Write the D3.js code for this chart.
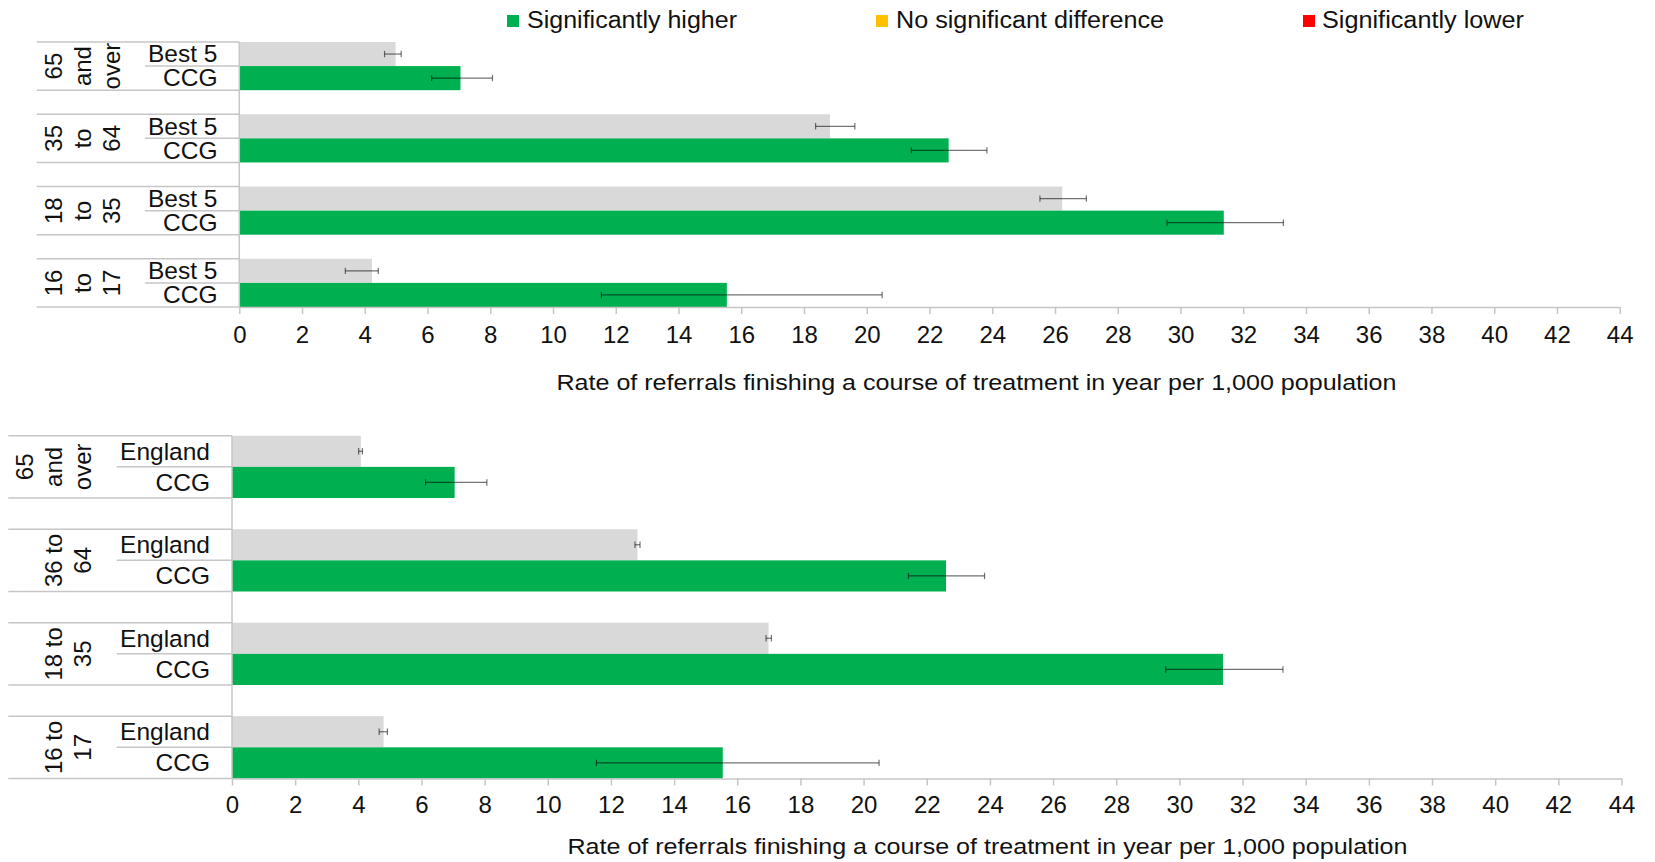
<!DOCTYPE html>
<html>
<head>
<meta charset="utf-8">
<script src="https://cdn.jsdelivr.net/npm/d3@7"></script>
<style>
  html, body { margin: 0; padding: 0; background: #fff; }
  svg { display: block; font-family: "Liberation Sans", Arial, sans-serif; }
</style>
</head>
<body>
<svg id="chart" width="1655" height="862"></svg>
<script>
// ---------------- DATA ----------------
const ageGroupsTop = ["65 and over", "35 to 64", "18 to 35", "16 to 17"];
const ageLabelLinesTop = [["65", "and", "over"], ["35", "to", "64"], ["18", "to", "35"], ["16", "to", "17"]];
const ageGroupsBottom = ["65 and over", "36 to 64", "18 to 35", "16 to 17"];
const ageLabelLinesBottom = [["65", "and", "over"], ["36 to", "64"], ["18 to", "35"], ["16 to", "17"]];

const seriesTop = ["Best 5", "CCG"];
const seriesBottom = ["England", "CCG"];

const best5Values = [4.98, 18.83, 26.23, 4.23];
const best5Lower  = [4.63, 18.37, 25.52, 3.38];
const best5Upper  = [5.16, 19.62, 27.00, 4.43];

const englandValues = [4.08, 12.84, 16.99, 4.80];
const englandLower  = [4.01, 12.76, 16.91, 4.66];
const englandUpper  = [4.13, 12.92, 17.08, 4.92];

const ccgValues = [7.05, 22.61, 31.38, 15.54];
const ccgLower  = [6.13, 21.42, 29.57, 11.54];
const ccgUpper  = [8.07, 23.83, 33.28, 20.49];

const xTicks = d3.range(0, 45, 2);
const legendItems = ["Significantly higher", "No significant difference", "Significantly lower"];
const legendColors = ["#00b050", "#ffc000", "#ff0000"];
const axisTitle = "Rate of referrals finishing a course of treatment in year per 1,000 population";

// ---------------- STYLE ----------------
const GREEN = "#00b050";
const GREY = "#d9d9d9";
const LINE = "#c6c6c6";

const svg = d3.select("#chart");

// ---------------- LEGEND ----------------
const legendSquareX = [507, 876, 1303];
const legendTextX = [527, 896, 1322];
const legendTextW = [210, 268, 202];
const legend = svg.append("g");
legendItems.forEach((t, i) => {
  legend.append("rect").attr("x", legendSquareX[i]).attr("y", 15).attr("width", 12).attr("height", 12)
    .attr("fill", legendColors[i]);
  legend.append("text").attr("x", legendTextX[i]).attr("y", 28)
    .attr("font-size", 23).attr("fill", "#111")
    .attr("textLength", legendTextW[i]).attr("lengthAdjust", "spacingAndGlyphs")
    .text(t);
});

// ---------------- PANEL ----------------
function drawPanel(cfg) {
  const g = svg.append("g");
  const x = d3.scaleLinear().domain([0, 44]).range([cfg.x0, cfg.x1]);
  const y0 = d3.scaleBand().domain(cfg.groups).range([cfg.yTop, cfg.yBottom]).paddingInner(1 / 3).paddingOuter(0);
  const y1 = d3.scaleBand().domain(cfg.series).range([0, y0.bandwidth()]).padding(0);

  const rows = [];
  cfg.groups.forEach((grp, i) => {
    rows.push({ group: grp, series: cfg.series[0], v: cfg.refV[i], lo: cfg.refLo[i], hi: cfg.refHi[i], color: GREY });
    rows.push({ group: grp, series: cfg.series[1], v: ccgValues[i], lo: ccgLower[i], hi: ccgUpper[i], color: GREEN });
  });

  // label table lines
  const lines = g.append("g").attr("stroke", LINE).attr("stroke-width", 1.5);
  cfg.groups.forEach(grp => {
    const top = y0(grp), bot = y0(grp) + y0.bandwidth(), mid = top + y1(cfg.series[1]);
    lines.append("line").attr("x1", cfg.groupLineX).attr("x2", x(0)).attr("y1", top).attr("y2", top);
    lines.append("line").attr("x1", cfg.groupLineX).attr("x2", x(0)).attr("y1", bot).attr("y2", bot);
    lines.append("line").attr("x1", cfg.subLineX).attr("x2", x(0)).attr("y1", mid).attr("y2", mid);
  });

  // bars
  g.append("g").selectAll("rect").data(rows).join("rect")
    .attr("x", x(0))
    .attr("y", d => y0(d.group) + y1(d.series))
    .attr("width", d => x(d.v) - x(0))
    .attr("height", y1.bandwidth())
    .attr("fill", d => d.color);

  // error bars
  const eb = g.append("g").attr("stroke", "#000").attr("stroke-opacity", 0.55).attr("stroke-width", 1.2);
  rows.forEach(d => {
    const cy = y0(d.group) + y1(d.series) + y1.bandwidth() / 2;
    eb.append("line").attr("x1", x(d.lo)).attr("x2", x(d.hi)).attr("y1", cy).attr("y2", cy);
    eb.append("line").attr("x1", x(d.lo)).attr("x2", x(d.lo)).attr("y1", cy - 3.2).attr("y2", cy + 3.2);
    eb.append("line").attr("x1", x(d.hi)).attr("x2", x(d.hi)).attr("y1", cy - 3.2).attr("y2", cy + 3.2);
  });

  // vertical axis line
  g.append("line").attr("x1", x(0)).attr("x2", x(0)).attr("y1", cfg.yTop).attr("y2", cfg.yBottom)
    .attr("stroke", LINE).attr("stroke-width", 1.5);

  // x axis
  const ax = g.append("g").attr("transform", `translate(0,${cfg.yBottom})`)
    .call(d3.axisBottom(x).tickValues(xTicks).tickSize(7).tickSizeOuter(0).tickPadding(cfg.tickPad));
  ax.select(".domain").attr("stroke", LINE).attr("stroke-width", 1.5);
  ax.selectAll(".tick line").attr("stroke", LINE).attr("stroke-width", 1.5);
  ax.selectAll(".tick text").attr("font-size", 24).attr("fill", "#111")
    .attr("font-family", '"Liberation Sans", Arial, sans-serif');

  // series labels
  const sl = g.append("g").attr("font-size", 24.5).attr("fill", "#111").attr("text-anchor", "end");
  rows.forEach(d => {
    const cy = y0(d.group) + y1(d.series) + y1.bandwidth() / 2;
    sl.append("text").attr("x", cfg.seriesLabelX).attr("y", cy + 8.3).text(d.series);
  });

  // group labels (rotated, stacked lines)
  const gl = g.append("g").attr("font-size", 24).attr("fill", "#111").attr("text-anchor", "middle");
  cfg.groups.forEach((grp, i) => {
    const cy = y0(grp) + y0.bandwidth() / 2;
    const linesArr = cfg.labelLines[i];
    const n = linesArr.length;
    linesArr.forEach((t, j) => {
      const bx = cfg.lastBaselineX - (n - 1 - j) * cfg.lineSpacing;
      gl.append("text").attr("transform", `translate(${bx},${cy}) rotate(-90)`).text(t);
    });
  });

  // axis title
  g.append("text").attr("x", cfg.titleX).attr("y", cfg.titleY).attr("font-size", 22.5).attr("fill", "#111")
    .attr("textLength", 840).attr("lengthAdjust", "spacingAndGlyphs")
    .text(axisTitle);
}

drawPanel({
  groups: ageGroupsTop, labelLines: ageLabelLinesTop, series: seriesTop,
  refV: best5Values, refLo: best5Lower, refHi: best5Upper,
  x0: 239.3, x1: 1619.7, yTop: 42, yBottom: 307,
  groupLineX: 36.7, subLineX: 145, seriesLabelX: 217.5,
  lastBaselineX: 120, lineSpacing: 29, tickPad: 12,
  titleX: 556.5, titleY: 389.5
});

drawPanel({
  groups: ageGroupsBottom, labelLines: ageLabelLinesBottom, series: seriesBottom,
  refV: englandValues, refLo: englandLower, refHi: englandUpper,
  x0: 232, x1: 1621.5, yTop: 435.7, yBottom: 778.5,
  groupLineX: 8.3, subLineX: 116.7, seriesLabelX: 210,
  lastBaselineX: 90.7, lineSpacing: 28.7, tickPad: 10,
  titleX: 567.5, titleY: 853.5
});
</script>
</body>
</html>
